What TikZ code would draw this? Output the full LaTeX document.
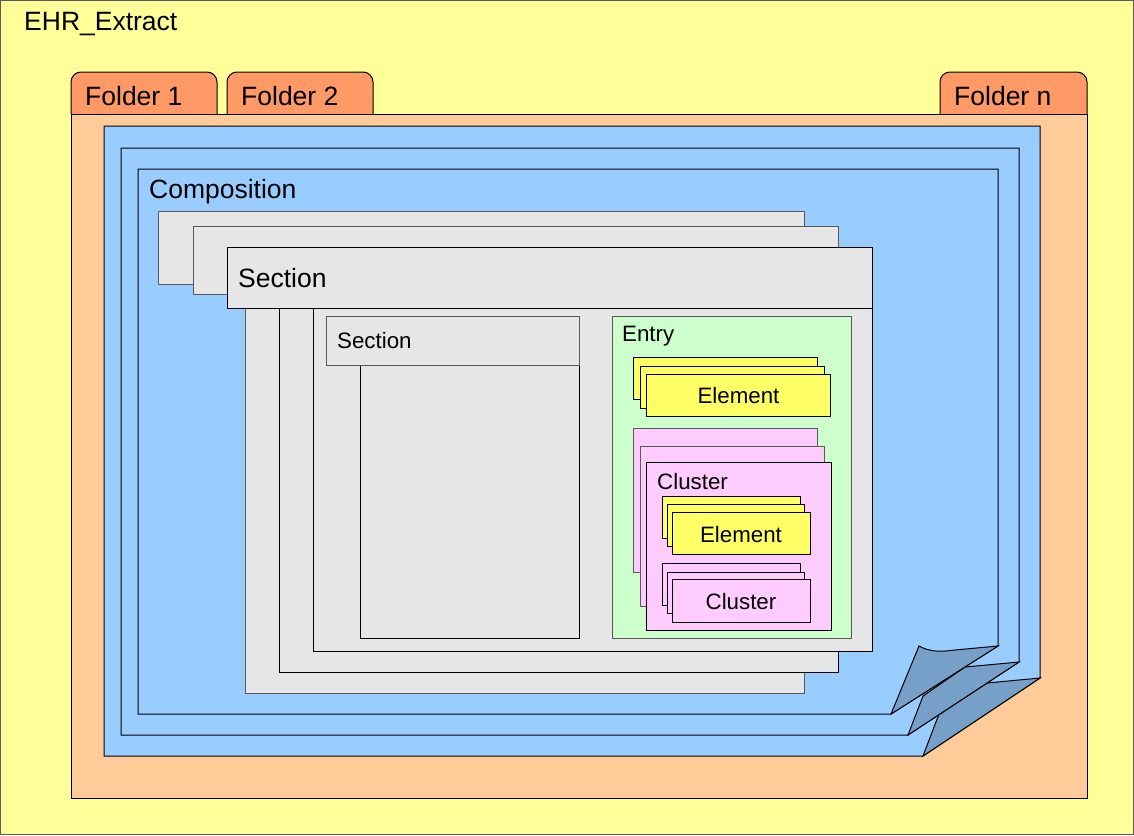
\documentclass[tikz,border=0pt]{standalone}
\usepackage{fontspec}
\setmainfont{Liberation Sans}
\begin{document}
\begin{tikzpicture}[x=1pt,y=-1pt,line join=miter]
\definecolor{bgyellow}{RGB}{255,255,153}
\definecolor{tabor}{RGB}{255,153,102}
\definecolor{peach}{RGB}{255,204,153}
\definecolor{sheetblue}{RGB}{153,204,255}
\definecolor{flapblue}{RGB}{119,160,200}
\definecolor{secgray}{RGB}{230,230,230}
\definecolor{entrygreen}{RGB}{204,255,204}
\definecolor{elemyellow}{RGB}{255,255,102}
\definecolor{clusterpink}{RGB}{255,204,255}
\tikzset{
  edge/.style={draw=black,line width=1pt},
  backedge/.style={draw=black!65,line width=1pt},
  bigtxt/.style={inner sep=0pt,anchor=base west,font=\fontsize{26.5}{30}\selectfont},
  smalltxt/.style={inner sep=0pt,anchor=base west,font=\fontsize{22.3}{26}\selectfont},
  smallmid/.style={inner sep=0pt,anchor=base,font=\fontsize{22.3}{26}\selectfont},
}
% background
\fill[bgyellow] (0,0) rectangle (1134,835);
\draw[draw=black!65,line width=1.2pt] (0.6,0.6) rectangle (1133.4,834.4);
\useasboundingbox (0,0) rectangle (1134,835);
\node[bigtxt] (ehr) at (24,30.5) {EHR\_Extract};

% folder tabs
\foreach \l/\r in {71/217,227/373,940/1087}{
  \filldraw[edge,fill=tabor,rounded corners=10pt] (\l,114) -- (\l,72) -- (\r,72) -- (\r,114);
}
\node[bigtxt] (f1) at (85,105) {Folder 1};
\node[bigtxt] (f2) at (241,105) {Folder 2};
\node[bigtxt] (fn) at (954,105) {Folder n};
% folder body
\filldraw[edge,fill=peach] (71,114) rectangle (1087,798);

% blue sheets with folded corners
\filldraw[edge,fill=sheetblue] (104,126) -- (1040,126) -- (1040,678) -- (923,756) -- (104,756) -- cycle;
\filldraw[edge,fill=flapblue] (923,756) -- (939,714) -- (987,683) -- (1040,678) -- cycle;
\filldraw[edge,fill=sheetblue] (121,148) -- (1019,148) -- (1019,662) -- (908,735) -- (121,735) -- cycle;
\filldraw[edge,fill=flapblue] (908,735) -- (923,696) -- (965,667) -- (1019,662) -- cycle;
\filldraw[edge,fill=sheetblue] (138,169) -- (998,169) -- (998,646) -- (891,714) -- (138,714) -- cycle;
\filldraw[edge,fill=flapblue] (891,714) -- (919,646) .. controls (930,652) and (940,652) .. (955,650) -- (998,646) -- cycle;
\node[bigtxt] (comp) at (149,198) {Composition};

% section stack
\filldraw[backedge,fill=secgray] (245,284) rectangle (804,693);
\filldraw[backedge,fill=secgray] (158,211) rectangle (804,284);
\filldraw[edge,fill=secgray] (279,294) rectangle (838,672);
\filldraw[backedge,fill=secgray] (193,226) rectangle (838,294);
\filldraw[edge,fill=secgray] (313,308) rectangle (872,651);
\filldraw[edge,fill=secgray] (227,247) rectangle (872,308);
\node[bigtxt] (sec) at (238,287) {Section};

% inner section
\filldraw[edge,fill=secgray] (360,365) rectangle (579,638);
\filldraw[backedge,fill=secgray] (326,316) rectangle (579,365);
\node[smalltxt] (isec) at (337,348) {Section};

% entry
\filldraw[backedge,fill=entrygreen] (612,316) rectangle (851,638);
\node[smalltxt] (entry) at (622,341.5) {Entry};

% element stack in entry
\filldraw[edge,fill=elemyellow] (633,357) rectangle (817,399);
\filldraw[edge,fill=elemyellow] (640,366) rectangle (824,408);
\filldraw[edge,fill=elemyellow] (646,374) rectangle (830,416);
\node[smallmid] (el1) at (738.5,403) {Element};

% cluster stack in entry
\filldraw[backedge,fill=clusterpink] (633,428) rectangle (817,572);
\filldraw[backedge,fill=clusterpink] (640,446) rectangle (824,606);
\filldraw[edge,fill=clusterpink] (646,462) rectangle (831,630);
\node[smalltxt] (cl1) at (657,489) {Cluster};

% inner element stack
\filldraw[edge,fill=elemyellow] (662,496) rectangle (800,538);
\filldraw[edge,fill=elemyellow] (667,504) rectangle (804,546);
\filldraw[edge,fill=elemyellow] (672,512) rectangle (810,554);
\node[smallmid] (el2) at (741,542) {Element};

% inner cluster stack
\filldraw[edge,fill=clusterpink] (662,563) rectangle (800,605);
\filldraw[edge,fill=clusterpink] (667,572) rectangle (804,613);
\filldraw[edge,fill=clusterpink] (672,579) rectangle (810,622);
\node[smallmid] (cl2) at (741,609) {Cluster};
\end{tikzpicture}
\end{document}
